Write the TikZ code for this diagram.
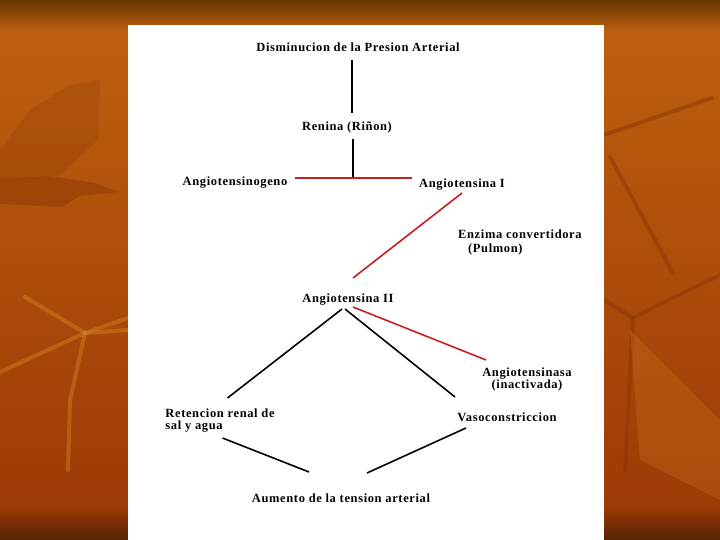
\documentclass[tikz,border=0pt]{standalone}
\usepackage{fontspec}
\setmainfont{Liberation Serif}[LetterSpace=5]
\usetikzlibrary{calc}
\definecolor{RABrown}{HTML}{663505}
\definecolor{RAOrange}{HTML}{BE620E}
\definecolor{RARust}{HTML}{9A3806}
\definecolor{RADark}{HTML}{552404}
\definecolor{RALeafDark}{HTML}{8A3406}
\definecolor{RALeafLight}{HTML}{D68221}
\definecolor{RARed}{HTML}{C81E1E}
\tikzset{
  raText/.style={
    font=\bfseries\fontsize{12.5}{12}\selectfont, text=black,
    inner sep=1pt, align=center
  },
  raLink/.style={draw=black, line width=1.6pt},
  raRed/.style={draw=RARed, line width=1.6pt},
  raLeaf/.style={fill=#1, draw=none, opacity=0.45},
  raLeaf/.default=RALeafDark,
  raTwig/.style={draw=#1, line width=4pt, opacity=0.45, line cap=round, line join=round},
  raTwig/.default=RALeafLight
}
\begin{document}
\begin{tikzpicture}[x=1pt, y=-1pt]
  \useasboundingbox (0,0) rectangle (720,540);
  % slide background
  \shade[top color=RAOrange, bottom color=RARust] (0,0) rectangle (720,540);
  \shade[top color=RABrown, bottom color=RAOrange] (0,0) rectangle (720,32);
  \shade[top color=RARust, bottom color=RADark] (0,508) rectangle (720,540);
  % leaves and twigs
  \fill[raLeaf, opacity=0.22] (0,150) -- (30,110) -- (70,85) -- (100,80) -- (98,140) -- (60,175) -- (0,178) -- cycle;
  \fill[raLeaf] (0,178) -- (50,176) -- (95,183) -- (118,192) -- (80,196) -- (62,207) -- (0,204) -- cycle;
  \draw[raTwig] (25,297) -- (85,333) -- (128,318);
  \draw[raTwig] (85,333) -- (128,330);
  \draw[raTwig] (85,333) -- (0,372);
  \draw[raTwig] (85,333) -- (70,400) -- (68,470);
  \draw[raTwig=RALeafDark] (604,135) -- (712,98);
  \draw[raTwig=RALeafDark] (610,157) -- (673,273);
  \draw[raTwig=RALeafDark] (604,300) -- (633,318) -- (720,275);
  \draw[raTwig=RALeafDark] (633,318) -- (625,470);
  \fill[raLeaf=RALeafLight, opacity=0.25] (630,330) -- (690,390) -- (720,420) -- (720,500) -- (680,480) -- (640,460) -- cycle;
  % white page
  \fill[white] (128,25) rectangle (604,540);

  \node[raText] (dism) at (358,47) {Disminucion de la Presion Arterial};
  \node[raText] (renina) at (347,127) {Renina (Riñon)};
  \node[raText] (angGen) at (235,183) {Angiotensinogeno};
  \node[raText] (angI) at (462,185) {Angiotensina I};
  \node[raText, anchor=west, align=left] (enzima) at (457,242) {Enzima convertidora\\[2pt]\hspace*{10pt}(Pulmon)};
  \node[raText] (angII) at (348,300) {Angiotensina II};
  \node[raText] (angNasa) at (527,379) {Angiotensinasa\\(inactivada)};
  \node[raText, align=left] (reten) at (220,421) {Retencion renal de\\sal y agua};
  \node[raText] (vaso) at (507,417) {Vasoconstriccion};
  \node[raText] (aumento) at (341,498) {Aumento de la tension arterial};

  \coordinate (redJoin) at ($(renina)+(6,51)$);
  \draw[raLink] ($(dism)+(-6,13)$) -- ($(renina)+(5,-14)$);
  \draw[raLink] ($(renina)+(6,12)$) -- (redJoin);
  \draw[raRed] ($(angGen)+(60,-5)$) -- ($(angI)+(-50,-7)$);
  \draw[raRed] ($(angI)+(0,8)$) -- ($(angII)+(5,-22)$);
  \draw[raLink] ($(angII)+(-6,9)$) -- ($(reten)+(7.5,-23)$);
  \draw[raLink] ($(angII)+(-3,9)$) -- ($(vaso)+(-52,-20)$);
  \draw[raRed] ($(angII)+(5,7)$) -- ($(angNasa)+(-41,-19)$);
  \draw[raLink] ($(reten)+(2.5,17)$) -- ($(aumento)+(-32,-26)$);
  \draw[raLink] ($(vaso)+(-41,11)$) -- ($(aumento)+(26,-25)$);
\end{tikzpicture}
\end{document}
